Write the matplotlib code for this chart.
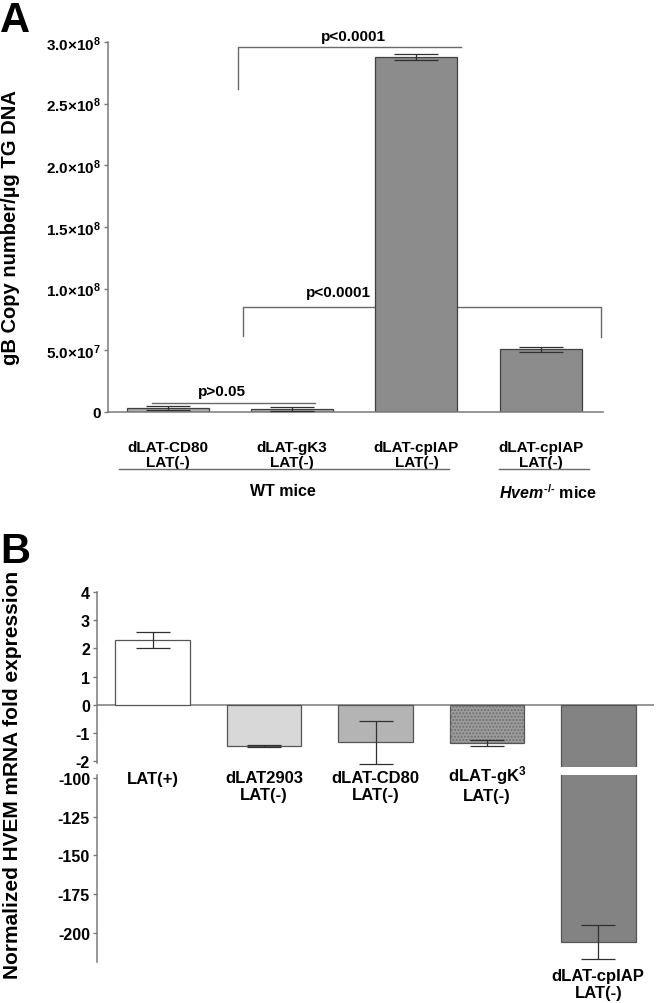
import numpy as np
import matplotlib
matplotlib.use('Agg')
import matplotlib.pyplot as plt
import matplotlib.transforms as mtransforms

plt.rcParams['font.family'] = ['Liberation Sans', 'DejaVu Sans']
plt.rcParams['font.weight'] = 'bold'
plt.rcParams['axes.labelweight'] = 'bold'
plt.rcParams['axes.unicode_minus'] = False
plt.rcParams['mathtext.fontset'] = 'custom'
plt.rcParams['mathtext.rm'] = 'Liberation Sans:bold'
plt.rcParams['mathtext.bf'] = 'Liberation Sans:bold'
plt.rcParams['mathtext.it'] = 'Liberation Sans:italic:bold'
plt.rcParams['mathtext.default'] = 'rm'

# panel A data
a_labels = ['dLAT-CD80\nLAT(-)', 'dLAT-gK3\nLAT(-)', 'dLAT-cpIAP\nLAT(-)', 'dLAT-cpIAP\nLAT(-)']
a_values = [3.0e6, 2.3e6, 2.88e8, 5.1e7]
a_errors = [1.5e6, 1.4e6, 2.5e6, 2.0e6]
a_colors = ['#a9a9a9', '#a9a9a9', '#8c8c8c', '#8c8c8c']
a_ticks = [0, 5e7, 1e8, 1.5e8, 2e8, 2.5e8, 3e8]
a_ticklabels = ['0', r'5.0×10$^{7}$', r'1.0×10$^{8}$', r'1.5×10$^{8}$',
                r'2.0×10$^{8}$', r'2.5×10$^{8}$', r'3.0×10$^{8}$']

# panel B data
b_labels = ['LAT(+)', 'dLAT2903\nLAT(-)', 'dLAT-CD80\nLAT(-)', 'dLAT-gK$^{3}$\nLAT(-)', 'dLAT-cpIAP\nLAT(-)']
b_values = [2.3, -1.46, -1.32, -1.35, -206]
b_errors = [0.28, 0.04, 0.76, 0.12, 11]
b_colors = ['#ffffff', '#d8d8d8', '#b4b4b4', '#9c9c9c', '#838383']
b_top_ticks = [4, 3, 2, 1, 0, -1, -2]
b_low_ticks = [-100, -125, -150, -175, -200]

axcol = '#7a7a7a'
W, H = 666, 1004
fig = plt.figure(figsize=(W / 100, H / 100), dpi=100)

def box(x0, y0, x1, y1):
    return [x0 / W, 1 - y1 / H, (x1 - x0) / W, (y1 - y0) / H]

# ---------------- Panel A ----------------
ax = fig.add_axes(box(108, 43, 603, 413))
xa = np.arange(len(a_values))
ax.bar(xa, a_values, width=0.66, color=a_colors, edgecolor='#404040', linewidth=0.9, zorder=2)
ax.errorbar(xa, a_values, yerr=a_errors, fmt='none', ecolor='#303030', elinewidth=0.9,
            capsize=16, capthick=0.9, zorder=3)
ax.set_xlim(-0.48, 3.5)
ax.set_ylim(0, 3e8)
ax.set_yticks(a_ticks)
ax.set_yticklabels(a_ticklabels, fontsize=11)
ax.set_xticks(xa)
ax.set_xticklabels(a_labels, fontsize=11, linespacing=1.1)
ax.tick_params(axis='x', length=0, pad=20)
ax.tick_params(axis='y', length=3, width=1, color=axcol, pad=2)
for s in ['top', 'right']:
    ax.spines[s].set_visible(False)
for s in ['left', 'bottom']:
    ax.spines[s].set_color(axcol)
    ax.spines[s].set_linewidth(1.1)
ax.set_ylabel('gB Copy number/µg TG DNA', fontsize=14.5)
ax.yaxis.set_label_coords(-(108 - 20) / 495, (413 - 228) / 370)

bc = '#6a6a6a'
def bracket(x0, x1, y, d0, d1, txt, tx, ty):
    xs = [x0, x0, x1, x1]
    ys = [d0, y, y, d1]
    ax.plot(xs, ys, color=bc, lw=1, clip_on=False, zorder=1)
    ax.text(tx, ty, txt, ha='center', va='center', fontsize=11)

bracket(0.565, 2.36, 2.96e8, 2.62e8, 2.96e8, 'p<0.0001', 1.49, 3.05e8)
bracket(0.605, 3.48, 0.851e8, 0.616e8, 0.608e8, 'p<0.0001', 1.37, 0.975e8)
bracket(-0.13, 1.185, 0.073e8, 0.073e8, 0.073e8, 'p>0.05', 0.435, 0.17e8)

trA = mtransforms.blended_transform_factory(ax.transData, ax.transAxes)
ax.plot([-0.39, 2.26], [-0.154, -0.154], color=bc, lw=1, transform=trA, clip_on=False)
ax.plot([2.66, 3.39], [-0.154, -0.154], color=bc, lw=1, transform=trA, clip_on=False)
ax.text(0.93, -0.211, 'WT mice', ha='center', va='center', fontsize=11.5, transform=trA)
ax.text(3.06, -0.216, r'$\mathit{Hvem}^{\mathit{\text{-/-}}}$ mice', ha='center', va='center',
        fontsize=11.5, transform=trA)

fig.text(0.0, 1 - 1 / H, 'A', fontsize=30, fontweight='bold', va='top', ha='left')

# ---------------- Panel B ----------------
xb = np.arange(len(b_values))
top = fig.add_axes(box(97, 593, 654, 768))
low = fig.add_axes(box(97, 776, 654, 963))

for a in (top, low):
    a.patch.set_visible(False)
    a.bar(xb, b_values, width=0.67, color=b_colors, edgecolor='#555555', linewidth=0.9, zorder=2)
    a.bar(xb[3], b_values[3], width=0.67, fill=False, hatch='.....', edgecolor='#707070',
          linewidth=0, zorder=2)
    a.errorbar(xb, b_values, yerr=b_errors, fmt='none', ecolor='#303030', elinewidth=0.9,
               capsize=12, capthick=0.9, zorder=3)
    a.set_xlim(-0.5, 4.5)
    for s in ['top', 'right', 'bottom']:
        a.spines[s].set_visible(False)
    a.spines['left'].set_color(axcol)
    a.spines['left'].set_linewidth(1.1)
    a.tick_params(axis='y', length=3, width=1, color=axcol, labelsize=11.5, pad=2)
    a.set_xticks([])

top.set_ylim(-2.2, 4.0)
top.set_yticks(b_top_ticks)
top.spines['left'].set_bounds(-2.05, 4.0)
top.axhline(0, xmin=0, xmax=1, color=axcol, lw=1.1, zorder=1)

low.set_ylim(-219, -98)
low.set_yticks(b_low_ticks)
low.spines['left'].set_bounds(-219, -98)

trB = mtransforms.blended_transform_factory(top.transData, fig.transFigure)
label_y = [780, 787, 787, 784, 985]
for i, lab in enumerate(b_labels):
    fig.text(xb[i], 1 - label_y[i] / H, lab, ha='center', va='center', fontsize=12,
             linespacing=1.1, transform=trB)

fig.text(13 / W, 1 - 775 / H, 'Normalized HVEM mRNA fold expression', rotation=90,
         fontsize=15, ha='center', va='center')
fig.text(0.0, 1 - 552 / H, 'B', fontsize=30, fontweight='bold', va='center', ha='left')

fig.savefig('out.png', dpi=100)
